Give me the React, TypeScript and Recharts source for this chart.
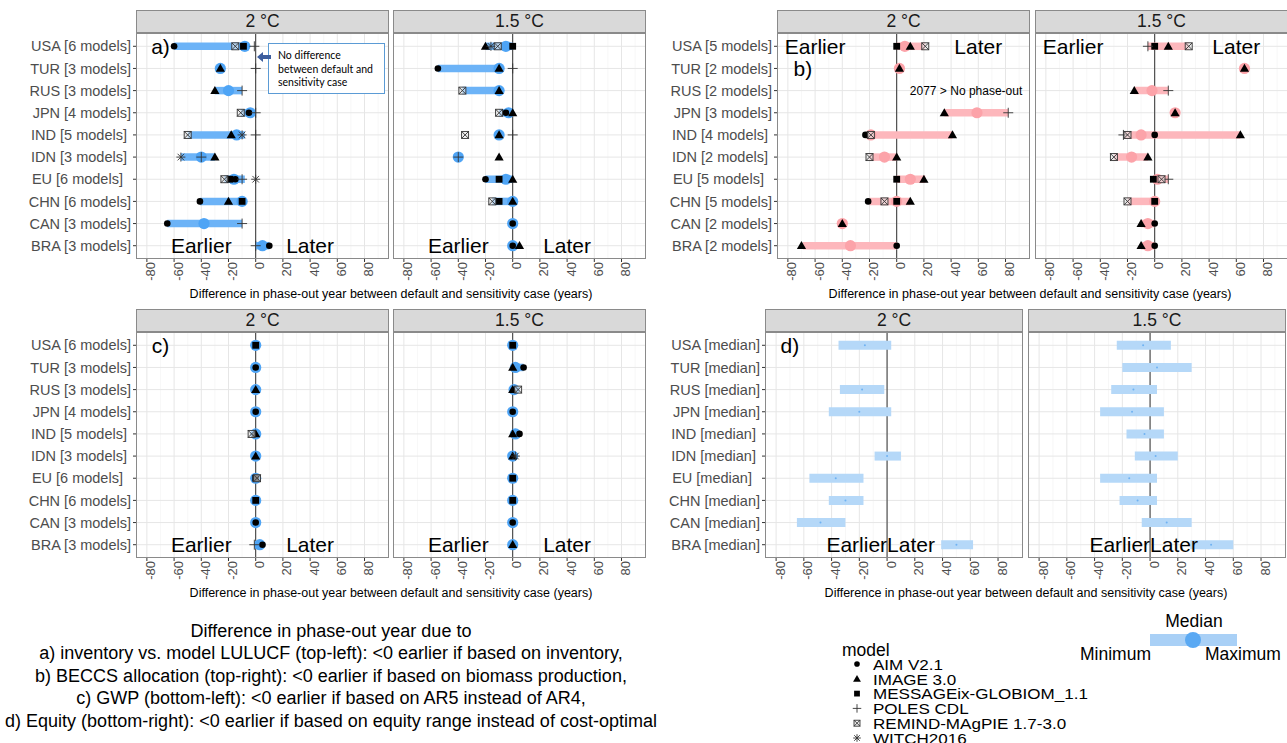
import React from "react";
import { CartesianGrid, Scatter, ScatterChart, XAxis, YAxis } from "recharts";

// ---- data ----
const COUNTRIES = ["USA", "TUR", "RUS", "JPN", "IND", "IDN", "EU", "CHN", "CAN", "BRA"];
const MODELS_AC = [6, 3, 3, 4, 5, 3, 6, 6, 3, 3];
const MODELS_B = [5, 2, 2, 3, 4, 2, 5, 5, 2, 2];
const LABEL_PAD = [0, 0, 0, 0, 1, 1, 2, 0, 0, 0];

const MODELS = ["AIM", "IMAGE", "MESSAGE", "POLES", "REMIND", "WITCH"];
const MODEL_NAMES = [
  "AIM V2.1",
  "IMAGE 3.0",
  "MESSAGEix-GLOBIOM_1.1",
  "POLES CDL",
  "REMIND-MAgPIE 1.7-3.0",
  "WITCH2016",
];

const X_TICKS = [-80, -60, -40, -20, 0, 20, 40, 60, 80];
const X_MINOR = [-70, -50, -30, -10, 10, 30, 50, 70, 90];

// a) inventory vs. model LULUCF
const A2_MIN = [-60, null, -30, -11, -50, -55, -23, -41, -65, 0];
const A2_MAX = [-8, null, -10, -3, -8, -30, -8, -8, -10, 10];
const A2_MED = [-8, -26, -20, -4, -14, -40, -16, -10, -38, 5];
const A2_PTS: [string, string, number][] = [
  ["USA", "AIM", -60], ["USA", "REMIND", -15], ["USA", "MESSAGE", -9], ["USA", "POLES", -1],
  ["TUR", "IMAGE", -26], ["TUR", "POLES", 0],
  ["RUS", "IMAGE", -30], ["RUS", "POLES", -10],
  ["JPN", "REMIND", -11], ["JPN", "AIM", -5], ["JPN", "POLES", 0],
  ["IND", "REMIND", -50], ["IND", "IMAGE", -18], ["IND", "WITCH", -10], ["IND", "POLES", 0],
  ["IDN", "WITCH", -55], ["IDN", "POLES", -40], ["IDN", "IMAGE", -30],
  ["EU", "REMIND", -23], ["EU", "MESSAGE", -19], ["EU", "AIM", -15], ["EU", "POLES", -10], ["EU", "WITCH", 0],
  ["CHN", "AIM", -41], ["CHN", "IMAGE", -20], ["CHN", "MESSAGE", -10],
  ["CAN", "AIM", -65], ["CAN", "POLES", -10],
  ["BRA", "POLES", 0], ["BRA", "AIM", 10],
];
const A15_MIN = [-20, -55, -37, -10, null, null, -20, -15, null, null];
const A15_MAX = [0, -10, -10, 0, null, null, 0, 0, null, null];
const A15_MED = [-5, -10, -10, -3, -10, -40, -5, 0, 0, 0];
const A15_PTS: [string, string, number][] = [
  ["USA", "IMAGE", -20], ["USA", "WITCH", -16], ["USA", "REMIND", -11], ["USA", "MESSAGE", 0],
  ["TUR", "AIM", -55], ["TUR", "IMAGE", -10], ["TUR", "POLES", 0],
  ["RUS", "REMIND", -37], ["RUS", "IMAGE", -10],
  ["JPN", "REMIND", -10], ["JPN", "AIM", -5], ["JPN", "IMAGE", 0],
  ["IND", "REMIND", -35], ["IND", "IMAGE", -10], ["IND", "POLES", 0],
  ["IDN", "POLES", -40], ["IDN", "IMAGE", -10],
  ["EU", "AIM", -20], ["EU", "MESSAGE", -10], ["EU", "IMAGE", 0],
  ["CHN", "REMIND", -15], ["CHN", "MESSAGE", -10], ["CHN", "IMAGE", 0],
  ["CAN", "AIM", 0],
  ["BRA", "AIM", 0], ["BRA", "IMAGE", 5],
];

// b) BECCS allocation
const B2_MIN = [0, null, null, 35, -22, -20, 0, -20, null, -69];
const B2_MAX = [21, null, null, 82, 41, 0, 21, 10, null, 0];
const B2_MED = [6, 2, null, 59, -19, -9, 10, 0, -40, -34];
const B2_PTS: [string, string, number][] = [
  ["USA", "MESSAGE", 0], ["USA", "IMAGE", 10], ["USA", "REMIND", 21],
  ["TUR", "IMAGE", 2],
  ["JPN", "IMAGE", 35], ["JPN", "POLES", 82],
  ["IND", "AIM", -23], ["IND", "REMIND", -19], ["IND", "IMAGE", 41],
  ["IDN", "REMIND", -20], ["IDN", "IMAGE", 0],
  ["EU", "MESSAGE", 0], ["EU", "IMAGE", 20],
  ["CHN", "AIM", -21], ["CHN", "REMIND", -9], ["CHN", "MESSAGE", 0], ["CHN", "IMAGE", 10],
  ["CAN", "IMAGE", -40],
  ["BRA", "IMAGE", -70], ["BRA", "AIM", 0],
];
const B15_MIN = [-5, null, -15, null, -22, -30, -1, -20, -10, -10];
const B15_MAX = [25, null, 10, null, 63, -5, 10, 0, 0, 0];
const B15_MED = [null, 66, -2, 15, -10, -17, 2, 0, -5, -5];
const B15_PTS: [string, string, number][] = [
  ["USA", "POLES", -5], ["USA", "MESSAGE", 0], ["USA", "IMAGE", 10], ["USA", "REMIND", 25],
  ["TUR", "IMAGE", 66],
  ["RUS", "IMAGE", -15], ["RUS", "POLES", 10],
  ["JPN", "IMAGE", 15],
  ["IND", "POLES", -23], ["IND", "REMIND", -20], ["IND", "AIM", 0], ["IND", "IMAGE", 63],
  ["IDN", "REMIND", -30], ["IDN", "IMAGE", -5],
  ["EU", "MESSAGE", -1], ["EU", "REMIND", 5], ["EU", "POLES", 10],
  ["CHN", "REMIND", -20], ["CHN", "MESSAGE", 0],
  ["CAN", "IMAGE", -10], ["CAN", "AIM", 0],
  ["BRA", "IMAGE", -10], ["BRA", "AIM", 0],
];

// c) GWP
const C2_MIN = [null, null, null, null, null, null, null, null, null, -1];
const C2_MAX = [null, null, null, null, null, null, null, null, null, 5];
const C2_MED = [0, 0, 0, 0, 0, 0, 0, 0, 0, 3];
const C2_PTS: [string, string, number][] = [
  ["USA", "MESSAGE", 0], ["TUR", "AIM", 0], ["RUS", "IMAGE", 0], ["JPN", "AIM", 0],
  ["IND", "REMIND", -3], ["IND", "IMAGE", 0], ["IDN", "IMAGE", 0],
  ["EU", "REMIND", 1], ["EU", "MESSAGE", 0], ["CHN", "MESSAGE", 0], ["CAN", "AIM", 0],
  ["BRA", "POLES", -1], ["BRA", "AIM", 5],
];
const C15_MIN = [null, 0, 0, null, 0, null, null, null, null, null];
const C15_MAX = [null, 8, 4, null, 5, null, null, null, null, null];
const C15_MED = [0, 2, 1, 0, 2, 0, 0, 0, 0, 0];
const C15_PTS: [string, string, number][] = [
  ["USA", "MESSAGE", 0], ["TUR", "IMAGE", 0], ["TUR", "AIM", 8],
  ["RUS", "IMAGE", 0], ["RUS", "REMIND", 4], ["JPN", "AIM", 0],
  ["IND", "IMAGE", 0], ["IND", "AIM", 5], ["IDN", "IMAGE", 0], ["IDN", "WITCH", 2],
  ["EU", "MESSAGE", 0], ["CHN", "MESSAGE", 0], ["CAN", "AIM", 0], ["BRA", "IMAGE", 0],
];

// d) equity range (medians)
const D2_MIN = [-35, null, -34, -42, null, -9, -56, -42, -65, 39];
const D2_MAX = [3, null, -2, 3, null, 10, -17, -17, -30, 62];
const D2_MED = [-16, null, -18, -20, null, 0, -37, -30, -48, 50];
const D15_MIN = [-24, -20, -28, -36, -17, -11, -36, -22, -6, 29];
const D15_MAX = [15, 30, 5, 10, 10, 20, 5, 5, 30, 60];
const D15_MED = [-5, 5, -12, -13, -4, 4, -15, -9, 12, 44];

// annotations (data coordinates)
const A2_NOTES = [
  { x: -70, y: 0, t: "a)" },
  { x: -40, y: 9, t: "Earlier" },
  { x: 40, y: 9, t: "Later" },
];
const A15_NOTES = [
  { x: -40, y: 9, t: "Earlier" },
  { x: 40, y: 9, t: "Later" },
];
const B2_NOTES = [
  { x: -60, y: 0, t: "Earlier" },
  { x: 60, y: 0, t: "Later" },
  { x: -69, y: 1, t: "b)" },
  { x: 51, y: 2, t: "2077 > No phase-out", small: true },
];
const B15_NOTES = [
  { x: -60, y: 0, t: "Earlier" },
  { x: 60, y: 0, t: "Later" },
];
const C2_NOTES = [
  { x: -70, y: 0, t: "c)" },
  { x: -40, y: 9, t: "Earlier" },
  { x: 40, y: 9, t: "Later" },
];
const C15_NOTES = A15_NOTES;
const D2_NOTES = [
  { x: -70, y: 0, t: "d)" },
  { x: 0, y: 9, t: "Earlier", anchor: "end" },
  { x: 0, y: 9, t: "Later", anchor: "start" },
];
const D15_NOTES = [
  { x: 0, y: 9, t: "Earlier", anchor: "end" },
  { x: 0, y: 9, t: "Later", anchor: "start" },
];

const CAPTION = [
  "Difference in phase-out year due to",
  "a) inventory vs. model LULUCF (top-left): <0 earlier if based on inventory,",
  "b) BECCS allocation (top-right): <0 earlier if based on biomass production,",
  "c) GWP (bottom-left): <0 earlier if based on AR5 instead of AR4,",
  "d) Equity (bottom-right): <0 earlier if based on equity range instead of cost-optimal",
];

// ---- styling ----
const FONT = '"Liberation Sans", Arial, Helvetica, sans-serif';
const X_DOMAIN = [-88, 98];
const Y_DOMAIN = [-0.6, 9.6];
const ROWS = COUNTRIES.map((_, i) => i);
const PLOT_H = 226;
const AXIS_H = 32;
const BORDER = "#8a8a8a";
const TITLE = "Difference in phase-out year between default and sensitivity case (years)";

const nb = (n: number) => "\u00a0".repeat(n);
const modelLabels = (counts: number[]) =>
  COUNTRIES.map((c, i) => `${c} [${counts[i]} models]` + nb(LABEL_PAD[i]));
const medianLabels = () => COUNTRIES.map((c, i) => `${c} [median]` + nb(LABEL_PAD[i]));

function marker(model: string, cx: number, cy: number, s = 1) {
  const k = s;
  switch (model) {
    case "AIM":
      return <circle cx={cx} cy={cy} r={3.3 * k} fill="#000" />;
    case "IMAGE":
      return (
        <polygon
          points={`${cx},${cy - 4.6 * k} ${cx + 4.6 * k},${cy + 3.4 * k} ${cx - 4.6 * k},${cy + 3.4 * k}`}
          fill="#000"
        />
      );
    case "MESSAGE":
      return <rect x={cx - 3.4 * k} y={cy - 3.4 * k} width={6.8 * k} height={6.8 * k} fill="#000" />;
    case "POLES":
      return (
        <g stroke="#333" strokeWidth={0.9}>
          <line x1={cx - 5 * k} x2={cx + 5 * k} y1={cy} y2={cy} />
          <line x1={cx} x2={cx} y1={cy - 5 * k} y2={cy + 5 * k} />
        </g>
      );
    case "REMIND":
      return (
        <g stroke="#333" strokeWidth={0.9} fill="none">
          <rect x={cx - 3.5 * k} y={cy - 3.5 * k} width={7 * k} height={7 * k} fill="rgba(230,230,230,0.6)" />
          <line x1={cx - 3.5 * k} y1={cy - 3.5 * k} x2={cx + 3.5 * k} y2={cy + 3.5 * k} />
          <line x1={cx - 3.5 * k} y1={cy + 3.5 * k} x2={cx + 3.5 * k} y2={cy - 3.5 * k} />
        </g>
      );
    default:
      return (
        <g stroke="#333" strokeWidth={0.9}>
          <line x1={cx - 4.5 * k} x2={cx + 4.5 * k} y1={cy} y2={cy} />
          <line x1={cx} x2={cx} y1={cy - 4.5 * k} y2={cy + 4.5 * k} />
          <line x1={cx - 3.3 * k} x2={cx + 3.3 * k} y1={cy - 3.3 * k} y2={cy + 3.3 * k} />
          <line x1={cx - 3.3 * k} x2={cx + 3.3 * k} y1={cy + 3.3 * k} y2={cy - 3.3 * k} />
        </g>
      );
  }
}

const NoShape = () => <g />;

function RotTick(props: any) {
  const { x, y, payload } = props;
  return (
    <text
      transform={`translate(${x + 4},${y - 2}) rotate(-90)`}
      textAnchor="end"
      dominantBaseline="central"
      fill="#4d4d4d"
      fontSize={13}
      fontFamily={FONT}
    >
      {payload.value}
    </text>
  );
}

type FacetProps = {
  left: number;
  top: number;
  plotW: number;
  axisW: number;
  strip: string;
  labels: string[];
  minV: (number | null)[];
  maxV: (number | null)[];
  medV: (number | null)[];
  pts?: [string, string, number][];
  notes: any[];
  barColor: string;
  medColor: string;
  barW: number;
  medR: number;
};

function Facet(p: FacetProps) {
  const width = p.axisW + p.plotW;
  const height = PLOT_H + AXIS_H;
  const bars = ROWS.filter((i) => p.minV[i] != null && p.maxV[i] != null && p.minV[i] !== p.maxV[i]).map(
    (i) => [
      { x: p.minV[i], y: i },
      { x: p.maxV[i], y: i },
    ]
  );
  const meds = ROWS.filter((i) => p.medV[i] != null).map((i) => ({ x: p.medV[i], y: i }));
  const pts = p.pts || [];
  return (
    <>
      <div
        style={{
          position: "absolute",
          left: p.left,
          top: p.top - 23,
          width: p.plotW,
          height: 23,
          boxSizing: "border-box",
          background: "#d9d9d9",
          border: `1px solid ${BORDER}`,
          textAlign: "center",
          lineHeight: "21px",
          fontSize: 17.5,
          color: "#1a1a1a",
          fontFamily: FONT,
        }}
      >
        {p.strip}
      </div>
      <div style={{ position: "absolute", left: p.left - p.axisW, top: p.top, width, height }}>
        <ScatterChart width={width} height={height} margin={{ top: 0, right: 0, bottom: 0, left: 0 }}>
          <CartesianGrid stroke="#f2f2f2" strokeWidth={0.6} horizontal={false} verticalValues={X_MINOR} />
          <CartesianGrid stroke="#e6e6e6" horizontalValues={ROWS} verticalValues={X_TICKS} />
          <CartesianGrid stroke="#333" strokeWidth={1} horizontal={false} verticalValues={[0]} />
          <XAxis
            type="number"
            dataKey="x"
            domain={X_DOMAIN}
            ticks={X_TICKS}
            allowDataOverflow
            interval={0}
            height={AXIS_H}
            axisLine={false}
            tickSize={3}
            tickLine={{ stroke: "#333" }}
            tick={<RotTick />}
          />
          <YAxis
            type="number"
            dataKey="y"
            domain={Y_DOMAIN}
            ticks={ROWS}
            reversed
            allowDataOverflow
            interval={0}
            hide={p.axisW === 0}
            width={p.axisW || 1}
            axisLine={false}
            tickSize={3}
            tickLine={{ stroke: "#333" }}
            tick={{ fill: "#4d4d4d", fontSize: 14.5, fontFamily: FONT }}
            tickFormatter={(v: number) => p.labels[v]}
          />
          {bars.map((b, k) => (
            <Scatter
              key={`bar${k}`}
              data={b}
              line={{ stroke: p.barColor, strokeWidth: p.barW }}
              shape={NoShape}
              isAnimationActive={false}
              legendType="none"
            />
          ))}
          <Scatter
            data={meds}
            isAnimationActive={false}
            shape={(s: any) => <circle cx={s.cx} cy={s.cy} r={p.medR} fill={p.medColor} />}
          />
          {MODELS.map((m) => {
            const d = pts
              .filter((q) => q[1] === m)
              .map((q) => ({ x: q[2], y: COUNTRIES.indexOf(q[0]) }));
            if (!d.length) return null;
            return (
              <Scatter
                key={m}
                data={d}
                isAnimationActive={false}
                shape={(s: any) => marker(m, s.cx, s.cy)}
              />
            );
          })}
          <Scatter
            data={p.notes}
            isAnimationActive={false}
            shape={(s: any) => (
              <text
                x={s.cx}
                y={s.cy}
                textAnchor={s.payload.anchor || "middle"}
                dominantBaseline="central"
                fontSize={s.payload.small ? 12 : 21}
                fontFamily={FONT}
                fill="#000"
              >
                {s.payload.t}
              </text>
            )}
          />
        </ScatterChart>
      </div>
      <div
        style={{
          position: "absolute",
          left: p.left,
          top: p.top,
          width: p.plotW,
          height: PLOT_H,
          boxSizing: "border-box",
          border: `1px solid ${BORDER}`,
          pointerEvents: "none",
        }}
      />
    </>
  );
}

function AxisTitle({ cx, y }: { cx: number; y: number }) {
  return (
    <div
      style={{
        position: "absolute",
        left: cx - 300,
        width: 600,
        top: y - 8,
        height: 16,
        lineHeight: "16px",
        textAlign: "center",
        fontSize: 12.5,
        fontFamily: FONT,
        color: "#000",
        whiteSpace: "nowrap",
      }}
    >
      {TITLE}
    </div>
  );
}

const BLUE = { barColor: "#6cb3f7", medColor: "#4ea4f5", barW: 7.5, medR: 5.6 };
const PINK = { barColor: "#fdb7bc", medColor: "#fca3a9", barW: 7.5, medR: 5.6 };
const PALE = { barColor: "#b5d8f8", medColor: "#6fb2f2", barW: 9, medR: 1 };

export default function App() {
  const la = modelLabels(MODELS_AC);
  const lb = modelLabels(MODELS_B);
  const ld = medianLabels();
  return (
    <div
      style={{
        position: "absolute",
        left: 0,
        top: 0,
        width: 1287,
        height: 743,
        background: "#fff",
        overflow: "hidden",
        fontFamily: FONT,
      }}
    >
      {/* a */}
      <Facet left={136} top={33} plotW={253} axisW={136} strip="2 °C" labels={la}
        minV={A2_MIN} maxV={A2_MAX} medV={A2_MED} pts={A2_PTS} notes={A2_NOTES} {...BLUE} />
      <Facet left={393} top={33} plotW={253} axisW={0} strip="1.5 °C" labels={la}
        minV={A15_MIN} maxV={A15_MAX} medV={A15_MED} pts={A15_PTS} notes={A15_NOTES} {...BLUE} />
      <AxisTitle cx={391} y={294} />

      {/* b */}
      <Facet left={777} top={33} plotW={253} axisW={140} strip="2 °C" labels={lb}
        minV={B2_MIN} maxV={B2_MAX} medV={B2_MED} pts={B2_PTS} notes={B2_NOTES} {...PINK} />
      <Facet left={1035} top={33} plotW={253} axisW={0} strip="1.5 °C" labels={lb}
        minV={B15_MIN} maxV={B15_MAX} medV={B15_MED} pts={B15_PTS} notes={B15_NOTES} {...PINK} />
      <AxisTitle cx={1030} y={294} />

      {/* c */}
      <Facet left={136} top={332} plotW={253} axisW={136} strip="2 °C" labels={la}
        minV={C2_MIN} maxV={C2_MAX} medV={C2_MED} pts={C2_PTS} notes={C2_NOTES} {...BLUE} />
      <Facet left={393} top={332} plotW={253} axisW={0} strip="1.5 °C" labels={la}
        minV={C15_MIN} maxV={C15_MAX} medV={C15_MED} pts={C15_PTS} notes={C15_NOTES} {...BLUE} />
      <AxisTitle cx={391} y={593} />

      {/* d */}
      <Facet left={765} top={332} plotW={258} axisW={140} strip="2 °C" labels={ld}
        minV={D2_MIN} maxV={D2_MAX} medV={D2_MED} notes={D2_NOTES} {...PALE} />
      <Facet left={1028} top={332} plotW={258} axisW={0} strip="1.5 °C" labels={ld}
        minV={D15_MIN} maxV={D15_MAX} medV={D15_MED} notes={D15_NOTES} {...PALE} />
      <AxisTitle cx={1026} y={593} />

      {/* callout in panel a */}
      <div
        style={{
          position: "absolute",
          left: 268,
          top: 43,
          width: 117,
          height: 51,
          boxSizing: "border-box",
          border: "1px solid #5b9bd5",
          background: "#fff",
          padding: "5px 0 0 9px",
          fontFamily: "Lato, 'Open Sans', sans-serif",
          fontSize: 10.5,
          lineHeight: "13.5px",
          color: "#000",
        }}
      >
        No difference
        <br />
        between default and
        <br />
        sensitivity case
      </div>
      <svg style={{ position: "absolute", left: 257, top: 51 }} width={14} height={12}>
        <polygon points="0,6 6,1 6,4 14,4 14,8 6,8 6,11" fill="#3d5e9e" />
      </svg>

      {/* caption */}
      {CAPTION.map((line, i) => (
        <div
          key={i}
          style={{
            position: "absolute",
            left: 0,
            width: 662,
            top: 620 + i * 22.4,
            height: 22,
            lineHeight: "22px",
            textAlign: "center",
            fontSize: 18,
            fontFamily: '"Liberation Sans Narrow", "Arial Narrow", "Liberation Sans", sans-serif',
            color: "#000",
            whiteSpace: "nowrap",
          }}
        >
          {line}
        </div>
      ))}

      {/* model legend */}
      <svg style={{ position: "absolute", left: 830, top: 600 }} width={457} height={143}>
        <text x={12} y={50} dominantBaseline="central" fontSize={17.5} fontFamily={FONT} fill="#000">
          model
        </text>
        {MODELS.map((m, i) => (
          <g key={m}>
            {marker(m, 27, 64 + i * 14.8, 0.85)}
            <text
              x={43}
              y={64 + i * 14.8}
              dominantBaseline="central"
              fontSize={15.5}
              fontFamily={FONT}
              fill="#000"
              transform={`translate(43,0) scale(1.1,1) translate(-43,0)`}
            >
              {MODEL_NAMES[i]}
            </text>
          </g>
        ))}
        <rect x={320} y={34} width={87} height={12} fill="#a9d0f6" />
        <circle cx={363} cy={40} r={8} fill="#5aa9f3" />
        <text x={364} y={21} textAnchor="middle" dominantBaseline="central" fontSize={17.5} fontFamily={FONT} fill="#000">
          Median
        </text>
        <text x={250} y={54} dominantBaseline="central" fontSize={17.5} fontFamily={FONT} fill="#000">
          Minimum
        </text>
        <text x={375} y={54} dominantBaseline="central" fontSize={17.5} fontFamily={FONT} fill="#000">
          Maximum
        </text>
      </svg>
    </div>
  );
}
